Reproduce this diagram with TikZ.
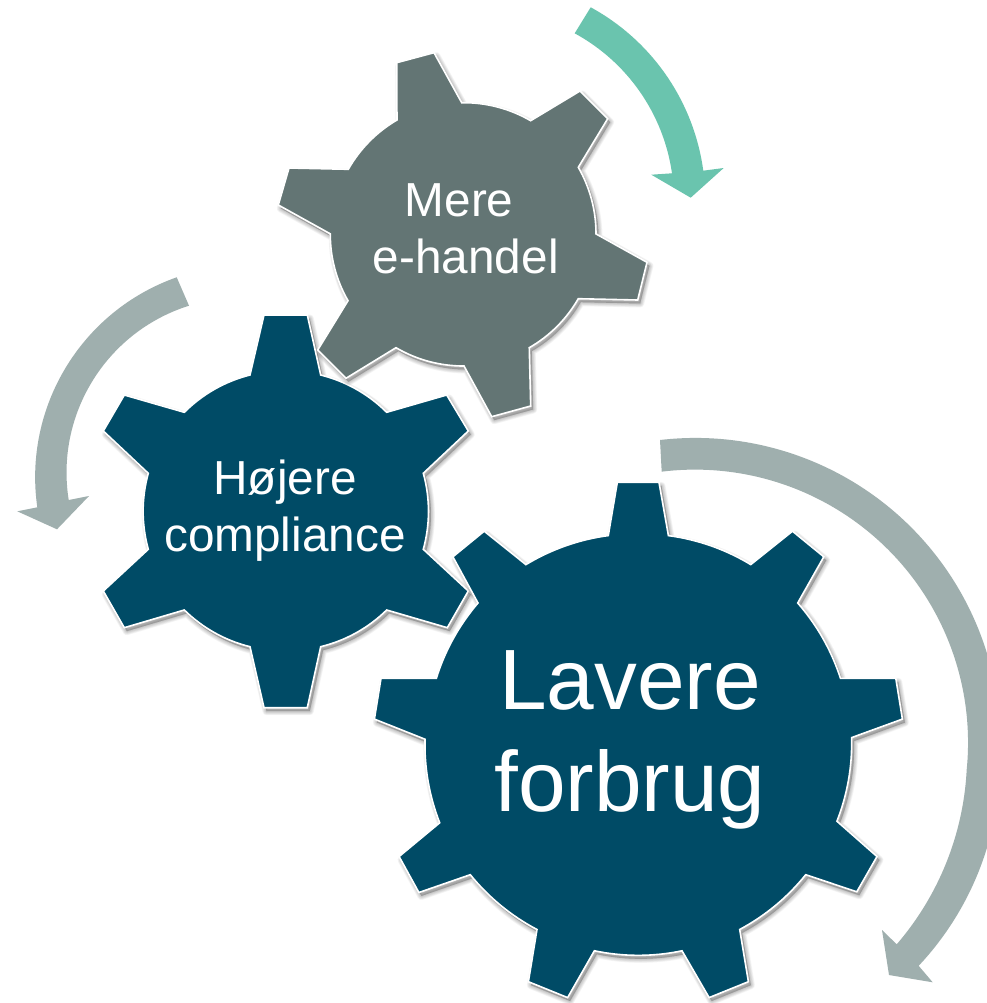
\documentclass[tikz,border=0pt]{standalone}
\usepackage{fontspec}
\setmainfont{Liberation Sans}
\usetikzlibrary{svg.path}
\definecolor{gearblue}{HTML}{004B66}
\definecolor{geargrey}{HTML}{637574}
\definecolor{arrowgrey}{HTML}{9FAFAE}
\definecolor{arrowteal}{HTML}{6AC4AE}
\tikzset{
  gearbody/.style={draw=white,line width=1.2pt,line join=miter},
  gearlabel/.style={text=white,align=center,inner sep=0pt,anchor=base},
}
\newcommand{\drawgear}[2]{%
  \foreach \w in {6,5,4,3,2,1}{%
    \draw[black,opacity=0.04,line width=\w pt,line join=round,fill=black,shift={(2.5,3.5)}] svg {#2};
  }
  \path[gearbody,fill=#1] svg {#2};
}
\begin{document}
\begin{tikzpicture}[x=1pt,y=1pt,scale=0.75,yscale=-1]
\clip (0,0) rectangle (987,1003);
\fill[white] (0,0) rectangle (987,1003);
% arrows
\fill[arrowteal] svg {M 590.7 7.3 A 220 220 0 0 1 703.3 170.7 L 723.7 168 L 690.7 197.7 L 651.3 174.7 L 672 173.3 A 190 190 0 0 0 574.7 33.3 Z};
\fill[arrowgrey] svg {M 176.7 277.3 A 212 212 0 0 0 37.3 507.3 L 17.3 511.3 L 57 529.3 L 89 496 L 68.7 500 A 175 175 0 0 1 189 305.7 Z};
\fill[arrowgrey] svg {M 660 440 A 305 305 0 0 1 1000 760 A 300 300 0 0 1 918.7 967.7 L 932.7 982.3 L 889 975 L 882 930 L 896.7 944.3 A 290 290 0 0 0 966.7 770 A 273 273 0 0 0 661.7 471.7 Z};
% small blue gear
\drawgear{gearblue}{M 264 315 L 307.3 315 L 320.7 375 A 142 142 0 0 1 386.7 412.3 L 446.7 395 L 468.3 431 L 423.3 473.3 A 142 142 0 0 1 423.3 549.3 L 468.3 591 L 447.3 627.7 L 386.7 610 A 142 142 0 0 1 320.7 646.7 L 307.3 707.7 L 264 707.7 L 250 646.7 A 142 142 0 0 1 184.3 610 L 124.3 627.7 L 103.3 591 L 148.3 549.3 A 142 142 0 0 1 148.3 473.3 L 103.3 431 L 124.3 395 L 184.3 412.3 A 142 142 0 0 1 250 375 Z}
% grey gear
\drawgear{geargrey}{M 396.7 62.7 L 434 52.7 L 461.7 102.7 A 133 133 0 0 1 530.7 120.7 L 580 91 L 607.7 118.7 L 578.3 167.3 A 133 133 0 0 1 596 235 L 647 262.3 L 637.7 300 L 578.3 298.7 A 133 133 0 0 1 529.3 347.7 L 530.7 406 L 491.7 416.7 L 464 366 A 133 133 0 0 1 396 347.7 L 346 378.3 L 317.7 350 L 348 300.7 A 133 133 0 0 1 330.3 232.7 L 278.3 205 L 289 168 L 348.3 169.3 A 133 133 0 0 1 397 120 Z}
% big blue gear
\drawgear{gearblue}{M 617.3 482.4 L 659 482.4 L 668.4 535.6 A 213 213 0 0 1 750.8 564.6 L 792.5 531.2 L 823.8 556.8 L 797.7 603 A 213 213 0 0 1 840.5 678.4 L 895.8 678.4 L 902.4 719.1 L 851.6 737.6 A 213 213 0 0 1 837 822.8 L 877 856.5 L 856.8 891.8 L 805.7 874.7 A 213 213 0 0 1 739.7 929.5 L 748.4 981.7 L 709.1 997.6 L 682 950.8 A 213 213 0 0 1 594.4 950.8 L 567.6 997.6 L 528.4 981.7 L 537 929.5 A 213 213 0 0 1 470.3 874.7 L 418.9 892.5 L 399.1 856.5 L 439.7 822.8 A 213 213 0 0 1 425.1 737.6 L 374.4 719.1 L 381 678.4 L 436.3 678.4 A 213 213 0 0 1 478 603 L 452.9 556.8 L 484.2 531.2 L 525.9 564.6 A 213 213 0 0 1 608.3 535.6 Z}
% labels
\node[gearlabel,font=\fontsize{35.8}{42.5}\selectfont] (mere) at (465.8,273.3) {Mere\hspace*{0.278em}\\e-handel};
\node[gearlabel,font=\fontsize{35.8}{42.5}\selectfont] (hojere) at (285,551) {Højere\\compliance};
\node[gearlabel,font=\fontsize{64.2}{76.3}\selectfont] (lavere) at (630,811.7) {Lavere\\forbrug};
\end{tikzpicture}
\end{document}
